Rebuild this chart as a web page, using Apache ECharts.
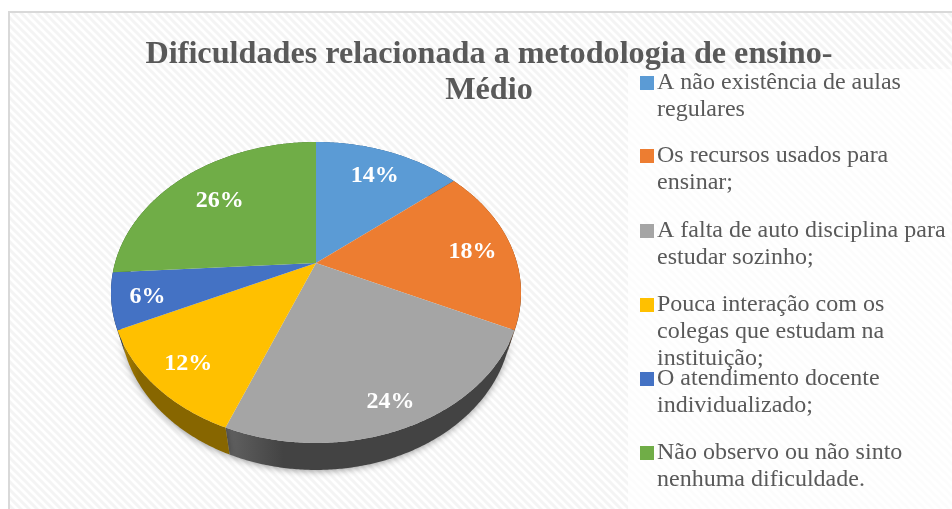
<!DOCTYPE html>
<html><head><meta charset="utf-8">
<style>html,body{margin:0;padding:0;background:#fff}#c{width:952px;height:509px}</style>
<script src="https://cdn.jsdelivr.net/npm/echarts@6/dist/echarts.min.js"></script>
</head><body><div id="c"></div>
<script>
var titleText = 'Dificuldades relacionada a metodologia de ensino-\nMédio';
var categories = ['A não existência de aulas\nregulares','Os recursos usados para\nensinar;','A falta de auto disciplina para\nestudar sozinho;','Pouca interação com os\ncolegas que estudam na\ninstituição;','O atendimento docente\nindividualizado;','Não observo ou não sinto\nnenhuma dificuldade.'];
var values = [14,18,24,12,6,26];
var colors = ['#5b9bd5','#ed7d31','#a5a5a5','#ffc000','#4472c4','#70ad47'];
var wallFrom = ['#2f5f8f','#8a4513','#626262','#b08500','#27467d','#3f6a27'];
var wallTo = ['#2a5580','#7f3f10','#434343','#876600','#223d6e','#385f22'];

// layout of the tilted disc (not data)
var CX=316, CY=263, R=201, K=144.7, P=0.196, DEPTH=27, SHRINK=0.955;
var labelRadii=[0.78,0.8,0.85,0.82,0.83,0.72];
var wallShadow=[0,0,7,7,0,0];
var legendFirstLine=[83,156,231,305,379,453];
var LINE=27;
var total=values.reduce(function(a,b){return a+b;},0);
var starts=[]; values.reduce(function(s,v,i){starts[i]=s;return s+v;},0);
function project(deg,r){
  var t=deg*Math.PI/180, X=r*Math.sin(t), Y=-r*Math.cos(t), w=1-P*Y;
  return [CX+R*X/w, CY+K*Y/w];
}
function angleOf(v){return v/total*360;}
function arc(i){
  var a=angleOf(starts[i]), b=angleOf(starts[i]+values[i]), pts=[], n=Math.ceil(b-a)*2;
  for(var k=0;k<=n;k++) pts.push(project(a+(b-a)*k/n,1));
  return pts;
}
function lower(p){return [CX+(p[0]-CX)*SHRINK,p[1]+DEPTH];}
function stripeImage(){
  var s=8,c=document.createElement('canvas');c.width=s;c.height=s;
  var g=c.getContext('2d');g.fillStyle='#ffffff';g.fillRect(0,0,s,s);
  g.strokeStyle='#f4f4f4';g.lineWidth=3;
  [-8,0,8].forEach(function(o){g.beginPath();g.moveTo(o-2,-2);g.lineTo(o+s+2,s+2);g.stroke();});
  return c;
}
var series=[{
  type:'custom',name:'lateral',coordinateSystem:'none',z:2,silent:true,
  data:values.map(function(v,i){return [i];}),
  renderItem:function(params,api){
    var i=api.value(0), top=arc(i), bottom=top.map(lower).reverse();
    return {type:'polygon',shape:{points:top.concat(bottom)},
      style:{fill:{type:'linear',x:0,y:0,x2:1,y2:0,colorStops:[{offset:0,color:wallFrom[i]},{offset:0.2,color:wallTo[i]},{offset:1,color:wallTo[i]}]},
      shadowBlur:wallShadow[i],shadowColor:'rgba(0,0,0,0.4)',shadowOffsetY:1}};
  }
}];
categories.forEach(function(name,i){
  series.push({
    type:'custom',name:name,coordinateSystem:'none',z:3,silent:true,
    itemStyle:{color:colors[i]},
    data:[[i,values[i]]],
    renderItem:function(params,api){
      var idx=api.value(0), pts=[[CX,CY]].concat(arc(idx));
      var mid=angleOf(starts[idx]+values[idx]/2), lp=project(mid,labelRadii[idx]);
      return {type:'group',children:[
        {type:'polygon',shape:{points:pts},style:{fill:colors[idx]}},
        {type:'text',z2:10,style:{x:lp[0],y:lp[1]+3,text:api.value(1)+'%',fill:'#fff',
          font:'bold 24px "Liberation Serif"',align:'center',verticalAlign:'middle'}}
      ]};
    }
  });
});
var chart=echarts.init(document.getElementById('c'),null,{renderer:'canvas'});
chart.setOption({
  animation:false,
  color:colors,
  title:{text:titleText,left:484,top:32,textAlign:'center',textStyle:{fontFamily:'Liberation Serif',fontWeight:'bold',fontSize:32.2,lineHeight:36,color:'#595959'}},
  legend:categories.map(function(name,i){
    var blank=name.split('\n').length-1;
    return {
      data:[name],orient:'vertical',left:640,top:legendFirstLine[i]-(2*blank+1)*LINE/2,padding:0,icon:'rect',itemWidth:14,itemHeight:14,itemGap:0,
      selectedMode:false,align:'left',
      formatter:function(n){return '\n'.repeat(blank)+n;},
      textStyle:{fontFamily:'Liberation Serif',fontSize:24,lineHeight:LINE,color:'#595959',padding:[0,0,0,-2]}
    };
  }),
  graphic:[
    {type:'rect',z:-5,silent:true,shape:{x:9,y:12,width:950,height:505},style:{fill:{image:stripeImage(),repeat:'repeat'},stroke:'#d9d9d9',lineWidth:2}},
    {type:'rect',z:-4,silent:true,shape:{x:628,y:69,width:324,height:440},style:{fill:'rgba(255,255,255,0.75)'}}
  ],
  series:series
});
</script></body></html>
